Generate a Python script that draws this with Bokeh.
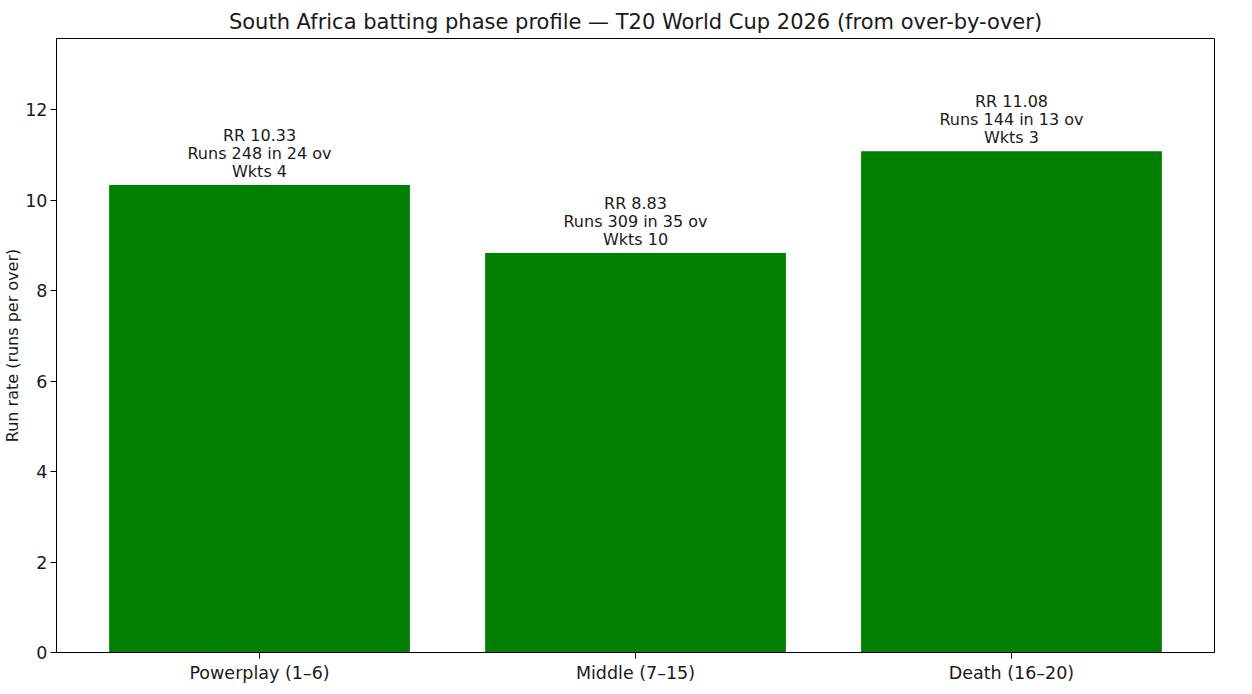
from bokeh.plotting import figure
from bokeh.models import ColumnDataSource, FixedTicker, Range1d
from bokeh.core.properties import value
from bokeh.embed import file_html
from bokeh.resources import INLINE

phases = ["Powerplay (1\u20136)", "Middle (7\u201315)", "Death (16\u201320)"]
run_rate = [10.33, 8.83, 11.08]
runs = [248, 309, 144]
overs = [24, 35, 13]
wickets = [4, 10, 3]

xs = list(range(len(phases)))
labels = [f"RR {r:.2f}\nRuns {ru} in {o} ov\nWkts {w}" for r, ru, o, w in zip(run_rate, runs, overs, wickets)]

src = ColumnDataSource(dict(x=xs, top=run_rate, label=labels))

FONT = "DejaVu Sans"

p = figure(width=1244, height=686, output_backend="svg", toolbar_location=None,
           x_range=Range1d(-0.54, 2.54), y_range=Range1d(0, 13.57),
           title="South Africa batting phase profile \u2014 T20 World Cup 2026 (from over-by-over)",
           min_border_left=0, min_border_right=30, min_border_top=38, min_border_bottom=34)

p.vbar(x="x", top="top", width=0.8, bottom=0, source=src, fill_color="#008000", line_color=None)
p.text(x="x", y="top", text="label", source=src, text_align="center", text_baseline="bottom",
       y_offset=-4, text_font=value(FONT), text_font_size="16px", text_color="#1a1a1a",
       text_line_height=0.95)

p.title.align = "center"
p.title.text_font = FONT
p.title.text_font_size = "21px"
p.title.text_font_style = "normal"
p.title.text_color = "#1a1a1a"
p.title.standoff = 9

p.xgrid.visible = False
p.ygrid.visible = False
p.outline_line_color = "black"
p.outline_line_alpha = 1
p.outline_line_width = 1

p.xaxis.ticker = FixedTicker(ticks=xs)
p.xaxis.major_label_overrides = {i: s for i, s in enumerate(phases)}
p.yaxis.ticker = FixedTicker(ticks=[0, 2, 4, 6, 8, 10, 12])
p.yaxis.axis_label = "Run rate (runs per over)"

for ax in (p.xaxis, p.yaxis):
    ax.minor_tick_line_color = None
    ax.major_tick_in = 0
    ax.major_tick_out = 6
    ax.major_tick_line_color = "black"
    ax.axis_line_color = "black"
    ax.major_label_text_font = FONT
    ax.major_label_text_font_size = "17.5px"
    ax.major_label_text_color = "#1a1a1a"
    ax.axis_label_text_font = FONT
    ax.axis_label_text_font_size = "16px"
    ax.axis_label_text_font_style = "normal"
    ax.axis_label_text_color = "#1a1a1a"
    ax.major_label_standoff = 4
p.yaxis.major_label_standoff = 3
p.yaxis.axis_label_standoff = 0

open("out.html", "w").write(file_html(p, INLINE))
